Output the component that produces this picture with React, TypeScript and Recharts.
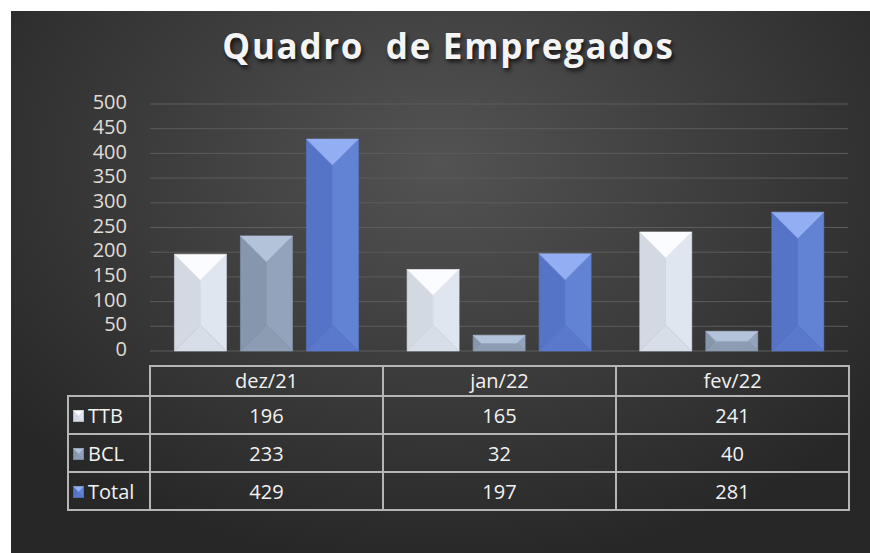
import { BarChart, Bar, XAxis, YAxis, CartesianGrid } from "recharts";

const months = ["dez/21", "jan/22", "fev/22"];
const ttb = [196, 165, 241];
const bcl = [233, 32, 40];
const total = [429, 197, 281];
const yTicks = [0, 50, 100, 150, 200, 250, 300, 350, 400, 450, 500];

const chartData = months.map((m, i) => ({ month: m, TTB: ttb[i], BCL: bcl[i], Total: total[i] }));

type Palette = { top: string; left: string; right: string; bottom: string };

const palettes: Record<string, Palette> = {
    TTB: { top: "#fbfcff", left: "#d3d9e3", right: "#e0e6f0", bottom: "#d8dee8" },
    BCL: { top: "#b3c3da", left: "#8596ad", right: "#92a3bb", bottom: "#8b9cb3" },
    Total: { top: "#93aef2", left: "#5574c8", right: "#6282d4", bottom: "#5a79cc" },
};

const rows = [
    { name: "TTB", values: ttb },
    { name: "BCL", values: bcl },
    { name: "Total", values: total },
];

const font = "'Open Sans', sans-serif";

function BevelBar(props: any) {
    const { x, y, width: w, height: h, pal } = props;
    if (!w || !h) return null;
    const s = Math.min(w, h) / 2;
    const p = (pts: number[][]) => pts.map(q => q.join(",")).join(" ");
    const poly = (pts: number[][], c: string) => <polygon points={p(pts)} fill={c} stroke={c} strokeWidth={0.6} strokeLinejoin="round" />;
    return (
        <g>
            {poly([[x, y], [x + s, y + s], [x + s, y + h - s], [x, y + h]], pal.left)}
            {poly([[x + w, y], [x + w - s, y + s], [x + w - s, y + h - s], [x + w, y + h]], pal.right)}
            <rect x={x + s} y={y + s} width={Math.max(0, w - 2 * s)} height={Math.max(0, h - 2 * s)} fill={pal.right} />
            {poly([[x, y + h], [x + w, y + h], [x + w - s, y + h - s], [x + s, y + h - s]], pal.bottom)}
            {poly([[x, y], [x + w, y], [x + w - s, y + s], [x + s, y + s]], pal.top)}
        </g>
    );
}

function KeySquare({ pal }: { pal: Palette }) {
    return (
        <svg width={11} height={12} style={{ display: "inline-block", verticalAlign: "middle", marginRight: 4 }}>
            <BevelBar x={0.5} y={0.5} width={10} height={11} pal={pal} />
        </svg>
    );
}

const line = "2px solid #b5b5b5";

export default function App() {
    return (
        <div style={{
            position: "absolute", left: 11, top: 11, width: 859, height: 542, overflow: "hidden",
            background: "radial-gradient(ellipse 65% 75% at 50% 28%, #535353 0%, #3d3d3d 50%, #272727 100%)",
            fontFamily: font,
        }}>
            <div style={{
                position: "absolute", left: 8, width: 859, top: 11, textAlign: "center",
                fontSize: 35, fontWeight: 700, letterSpacing: 1.7, color: "#f4f4f4",
                textShadow: "2px 3px 4px rgba(0,0,0,0.7)",
            }}>
                Quadro&nbsp; de Empregados
            </div>
            <div style={{ position: "absolute", left: 0, top: 0 }}>
                <BarChart width={859} height={542} data={chartData}
                    margin={{ top: 93, right: 22, left: 0, bottom: 202 }}
                    barGap={14} barCategoryGap="10.5%">
                    <CartesianGrid vertical={false} stroke="#5c5c5c" strokeWidth={1} />
                    <XAxis dataKey="month" hide />
                    <YAxis width={139} domain={[0, 500]} ticks={yTicks} axisLine={false} tickLine={false}
                        tickMargin={17} interval={0}
                        tick={{ fill: "#e0dcd6", fontSize: 20, fontFamily: font, dy: -2 }} />
                    {["TTB", "BCL", "Total"].map(k => (
                        <Bar key={k} dataKey={k} isAnimationActive={false}
                            shape={(p: any) => <BevelBar {...p} pal={palettes[k]} />} />
                    ))}
                </BarChart>
            </div>
            <table style={{
                position: "absolute", left: 56, top: 354, borderCollapse: "collapse",
                color: "#f2f2f2", fontSize: 20, fontFamily: font,
            }}>
                <tbody>
                    <tr style={{ height: 30 }}>
                        <td style={{ width: 81, padding: 0 }} />
                        {months.map(m => (
                            <td key={m} style={{ width: 231, border: line, textAlign: "center", padding: 0, lineHeight: "26px" }}>{m}</td>
                        ))}
                    </tr>
                    {rows.map(r => (
                        <tr key={r.name} style={{ height: 38 }}>
                            <td style={{ border: line, padding: "0 0 0 4px", whiteSpace: "nowrap" }}>
                                <KeySquare pal={palettes[r.name]} />
                                <span style={{ verticalAlign: "middle" }}>{r.name}</span>
                            </td>
                            {r.values.map((v, i) => (
                                <td key={i} style={{ border: line, textAlign: "center", padding: 0 }}>{v}</td>
                            ))}
                        </tr>
                    ))}
                </tbody>
            </table>
        </div>
    );
}
